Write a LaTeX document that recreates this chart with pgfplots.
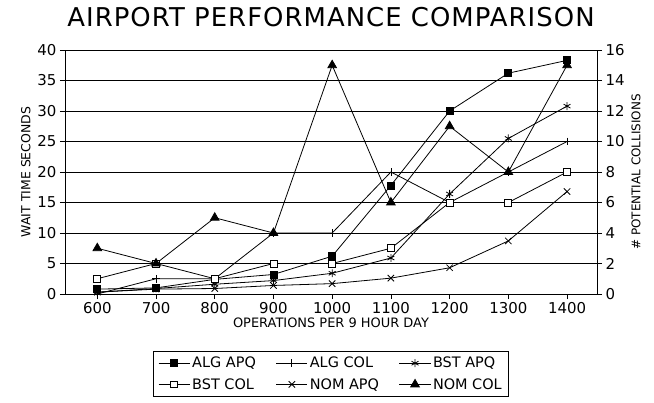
\documentclass[border=0pt]{standalone}
\usepackage{pgfplots}
\pgfplotsset{compat=1.18}
\usepackage{fontspec}
\setmainfont{DejaVu Sans}
\newfontfamily\titlefont[LetterSpace=4]{DejaVu Sans}
\pgfplotsset{
  base/.style={
    scale only axis, width=532bp, height=244bp,
    xmin=545, xmax=1451,
    xtick={600,700,...,1400},
    /pgf/number format/assume math mode=true,
    /pgf/number format/1000 sep={},
    ticklabel style={font=\fontsize{15}{15}\selectfont},
    tick style={black, line width=0.8pt},
    major tick length=5bp,
    tick align=outside,
    axis line style={black, line width=1pt},
    every axis plot/.append style={black, line width=0.8pt},
  },
  limg/.style={legend image code/.code={
    \draw[mark repeat=2,mark phase=2] plot coordinates {(0cm,0cm) (0.55cm,0cm) (1.1cm,0cm)};}},
}
\begin{document}
\begin{tikzpicture}
\begin{axis}[base,
  ymin=0, ymax=40, ytick={0,5,...,40},
  ytick pos=left, xtick pos=bottom,
  ymajorgrids, grid style={black, line width=0.9pt},
  ylabel={WAIT TIME SECONDS},
  ylabel style={font=\fontsize{12.5}{14}\selectfont},
  xlabel={OPERATIONS PER 9 HOUR DAY},
  xlabel style={font=\fontsize{13}{15}\selectfont, yshift=3bp},
  title={\titlefont AIRPORT PERFORMANCE COMPARISON},
  title style={font=\fontsize{26}{30}\selectfont, at={(0.5,1)}, anchor=base, yshift=18bp},
  legend style={at={(0.5,-0.232)}, anchor=north, draw=black, line width=1pt,
    font=\fontsize{14.5}{17}\selectfont, legend columns=3,
    inner ysep=4bp, inner xsep=5bp, row sep=5bp,
    /tikz/every even column/.append style={column sep=18bp}},
  legend cell align=left,
  limg,
]
\addplot[mark=square*, mark size=3.5pt, mark options={solid, fill=black}] coordinates {
  (600,0.8)(700,1.0)(800,2.4)(900,3.2)(1000,6.2)(1100,17.8)(1200,30)(1300,36.2)(1400,38.3)};
\addlegendentry{ALG APQ}
\addlegendimage{black, line width=0.8pt, mark=+, mark size=4pt}
\addlegendentry{ALG COL}
\addplot[mark=asterisk, mark size=4pt] coordinates {
  (600,0.3)(700,0.9)(800,1.6)(900,2.2)(1000,3.4)(1100,5.9)(1200,16.4)(1300,25.5)(1400,30.8)};
\addlegendentry{BST APQ}
\addlegendimage{black, line width=0.8pt, mark=square*, mark size=3.5pt, mark options={solid, fill=white}}
\addlegendentry{BST COL}
\addplot[mark=x, mark size=4.5pt] coordinates {
  (600,0.3)(700,0.8)(800,0.9)(900,1.4)(1000,1.7)(1100,2.6)(1200,4.3)(1300,8.7)(1400,16.8)};
\addlegendentry{NOM APQ}
\addlegendimage{black, line width=0.8pt, mark=triangle*, mark size=5pt, mark options={solid, fill=black}}
\addlegendentry{NOM COL}
\end{axis}
\begin{axis}[base,
  ymin=0, ymax=16, ytick={0,2,...,16},
  axis y line*=right, axis x line=none,
  ylabel={\# POTENTIAL COLLISIONS},
  ylabel style={font=\fontsize{12}{14}\selectfont},
]
\addplot[mark=+, mark size=4pt] coordinates {
  (600,0)(700,1)(800,1)(900,4)(1000,4)(1100,8)(1200,6)(1300,8)(1400,10)};
\addplot[mark=square*, mark size=3.5pt, mark options={solid, fill=white}] coordinates {
  (600,1)(700,2)(800,1)(900,2)(1000,2)(1100,3)(1200,6)(1300,6)(1400,8)};
\addplot[mark=triangle*, mark size=5pt, mark options={solid, fill=black}] coordinates {
  (600,3)(700,2)(800,5)(900,4)(1000,15)(1100,6)(1200,11)(1300,8)(1400,15)};
\end{axis}
\pgfresetboundingbox
\path (-65bp,-109bp) rectangle (589bp,294bp);
\end{tikzpicture}
\end{document}
